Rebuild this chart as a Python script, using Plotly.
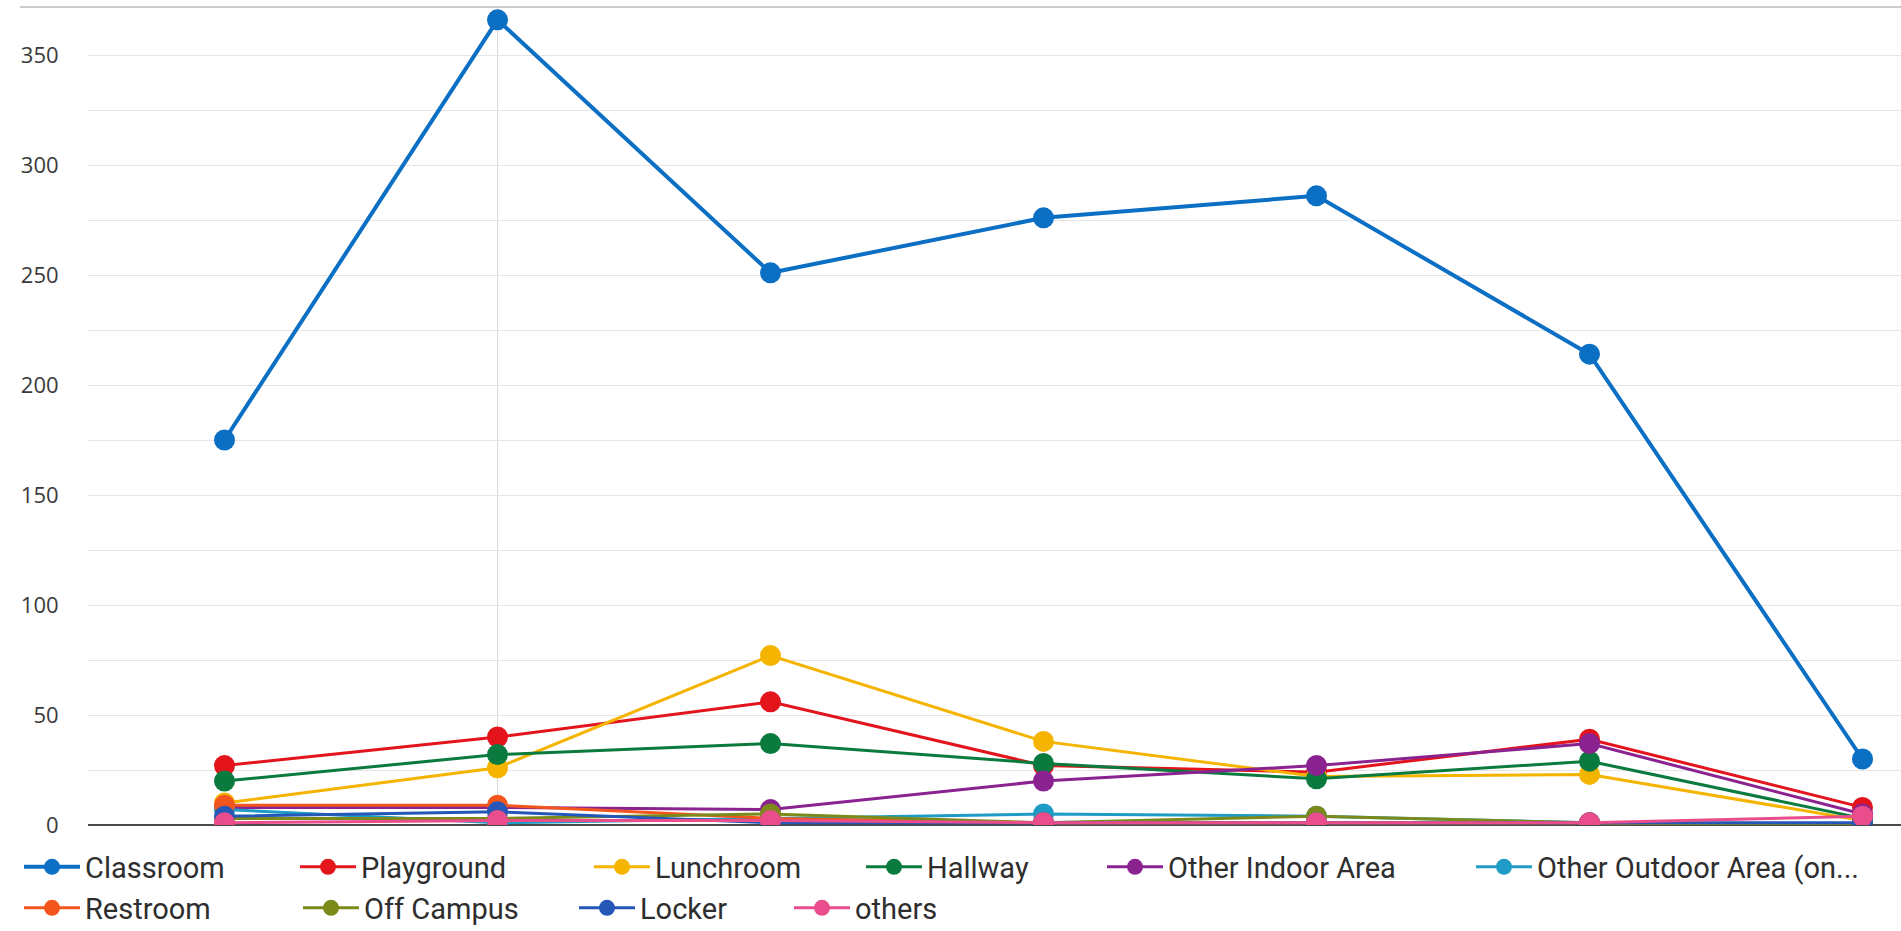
import plotly.graph_objects as go

# ---- data ----
categories = ["1", "2", "3", "4", "5", "6", "7"]
series_names = ["Classroom", "Playground", "Lunchroom", "Hallway", "Other Indoor Area",
                "Other Outdoor Area (on...", "Restroom", "Off Campus", "Locker", "others"]
classroom = [175, 366, 251, 276, 286, 214, 30]
playground = [27, 40, 56, 27, 24, 39, 8]
lunchroom = [10, 26, 77, 38, 22, 23, 2]
hallway = [20, 32, 37, 28, 21, 29, 3]
other_indoor = [8, 8, 7, 20, 27, 37, 5]
other_outdoor = [7, 1, 3, 5, 4, 1, 0]
restroom = [9, 9, 3, 1, 1, 1, 0]
off_campus = [3, 3, 5, 1, 4, 1, 0]
locker = [4, 6, 1, 1, 1, 1, 1]
others = [1, 2, 2, 1, 1, 1, 4]
y_ticks = [0, 50, 100, 150, 200, 250, 300, 350]

values = [classroom, playground, lunchroom, hallway, other_indoor,
          other_outdoor, restroom, off_campus, locker, others]
colors = ["#0b6fc4", "#e3141c", "#f4b400", "#0b7a3e", "#8a2290",
          "#1e9cc6", "#f2561d", "#7b8a1a", "#2457b8", "#e94d8b"]

W, H = 1901, 931
L, R, T, B = 88, 0, 0, 106
PW, PH = W - L - R, H - T - B

# legend text start positions (px) and row centers (px)
legend_text_x = [85, 361, 655, 927, 1168, 1537, 85, 364, 640, 855]
legend_row_y = [867, 867, 867, 867, 867, 867, 908, 908, 908, 908]
ITEMW = 56
TEXTGAP = ITEMW + 10

fig = go.Figure()
for i, (name, vals, col) in enumerate(zip(series_names, values, colors)):
    lname = "legend" if i == 0 else f"legend{i+1}"
    fig.add_trace(go.Scatter(
        x=categories, y=vals, name=name, mode="lines+markers",
        line=dict(color=col, width=4 if i == 0 else 3),
        marker=dict(color=col, size=21),
        legend=lname,
    ))

layout = dict(
    width=W, height=H,
    margin=dict(l=L, r=R, t=T, b=B, autoexpand=False),
    paper_bgcolor="white", plot_bgcolor="white",
    showlegend=True,
    xaxis=dict(type="category", range=[-0.5, (W - L) / 273 - 0.5],
               showticklabels=False, showgrid=False, zeroline=False, showline=False),
    yaxis=dict(range=[0, 375], tickvals=y_ticks,
               tickfont=dict(family="Open Sans", size=22, color="#3a3a3a"),
               ticks="outside", ticklen=24, tickcolor="rgba(0,0,0,0)",
               showgrid=True, gridcolor="#e6e6e6", gridwidth=1,
               minor=dict(dtick=25, tick0=0, showgrid=True, gridcolor="#e6e6e6", gridwidth=1),
               zeroline=True, zerolinecolor="#4a4a4a", zerolinewidth=1.5,
               showline=False),
    shapes=[
        dict(type="line", xref="x", yref="paper", x0=1, x1=1, y0=0, y1=0.99,
             line=dict(color="#d8d8d8", width=1), layer="below"),
        dict(type="line", xref="paper", yref="paper",
             x0=(20 - L) / PW, x1=1, y0=1 - 7 / PH, y1=1 - 7 / PH,
             line=dict(color="#9a9a9a", width=1.2)),
    ],
)

for i in range(len(series_names)):
    lname = "legend" if i == 0 else f"legend{i+1}"
    layout[lname] = dict(
        x=(legend_text_x[i] - TEXTGAP - L) / PW,
        y=(H - B - legend_row_y[i]) / PH,
        xanchor="left", yanchor="middle",
        orientation="h", itemwidth=ITEMW,
        bgcolor="rgba(0,0,0,0)", borderwidth=0,
        font=dict(family="Roboto", size=29, color="#2e2e2e"),
    )

fig.update_layout(**layout)
fig.write_html("out.html")
